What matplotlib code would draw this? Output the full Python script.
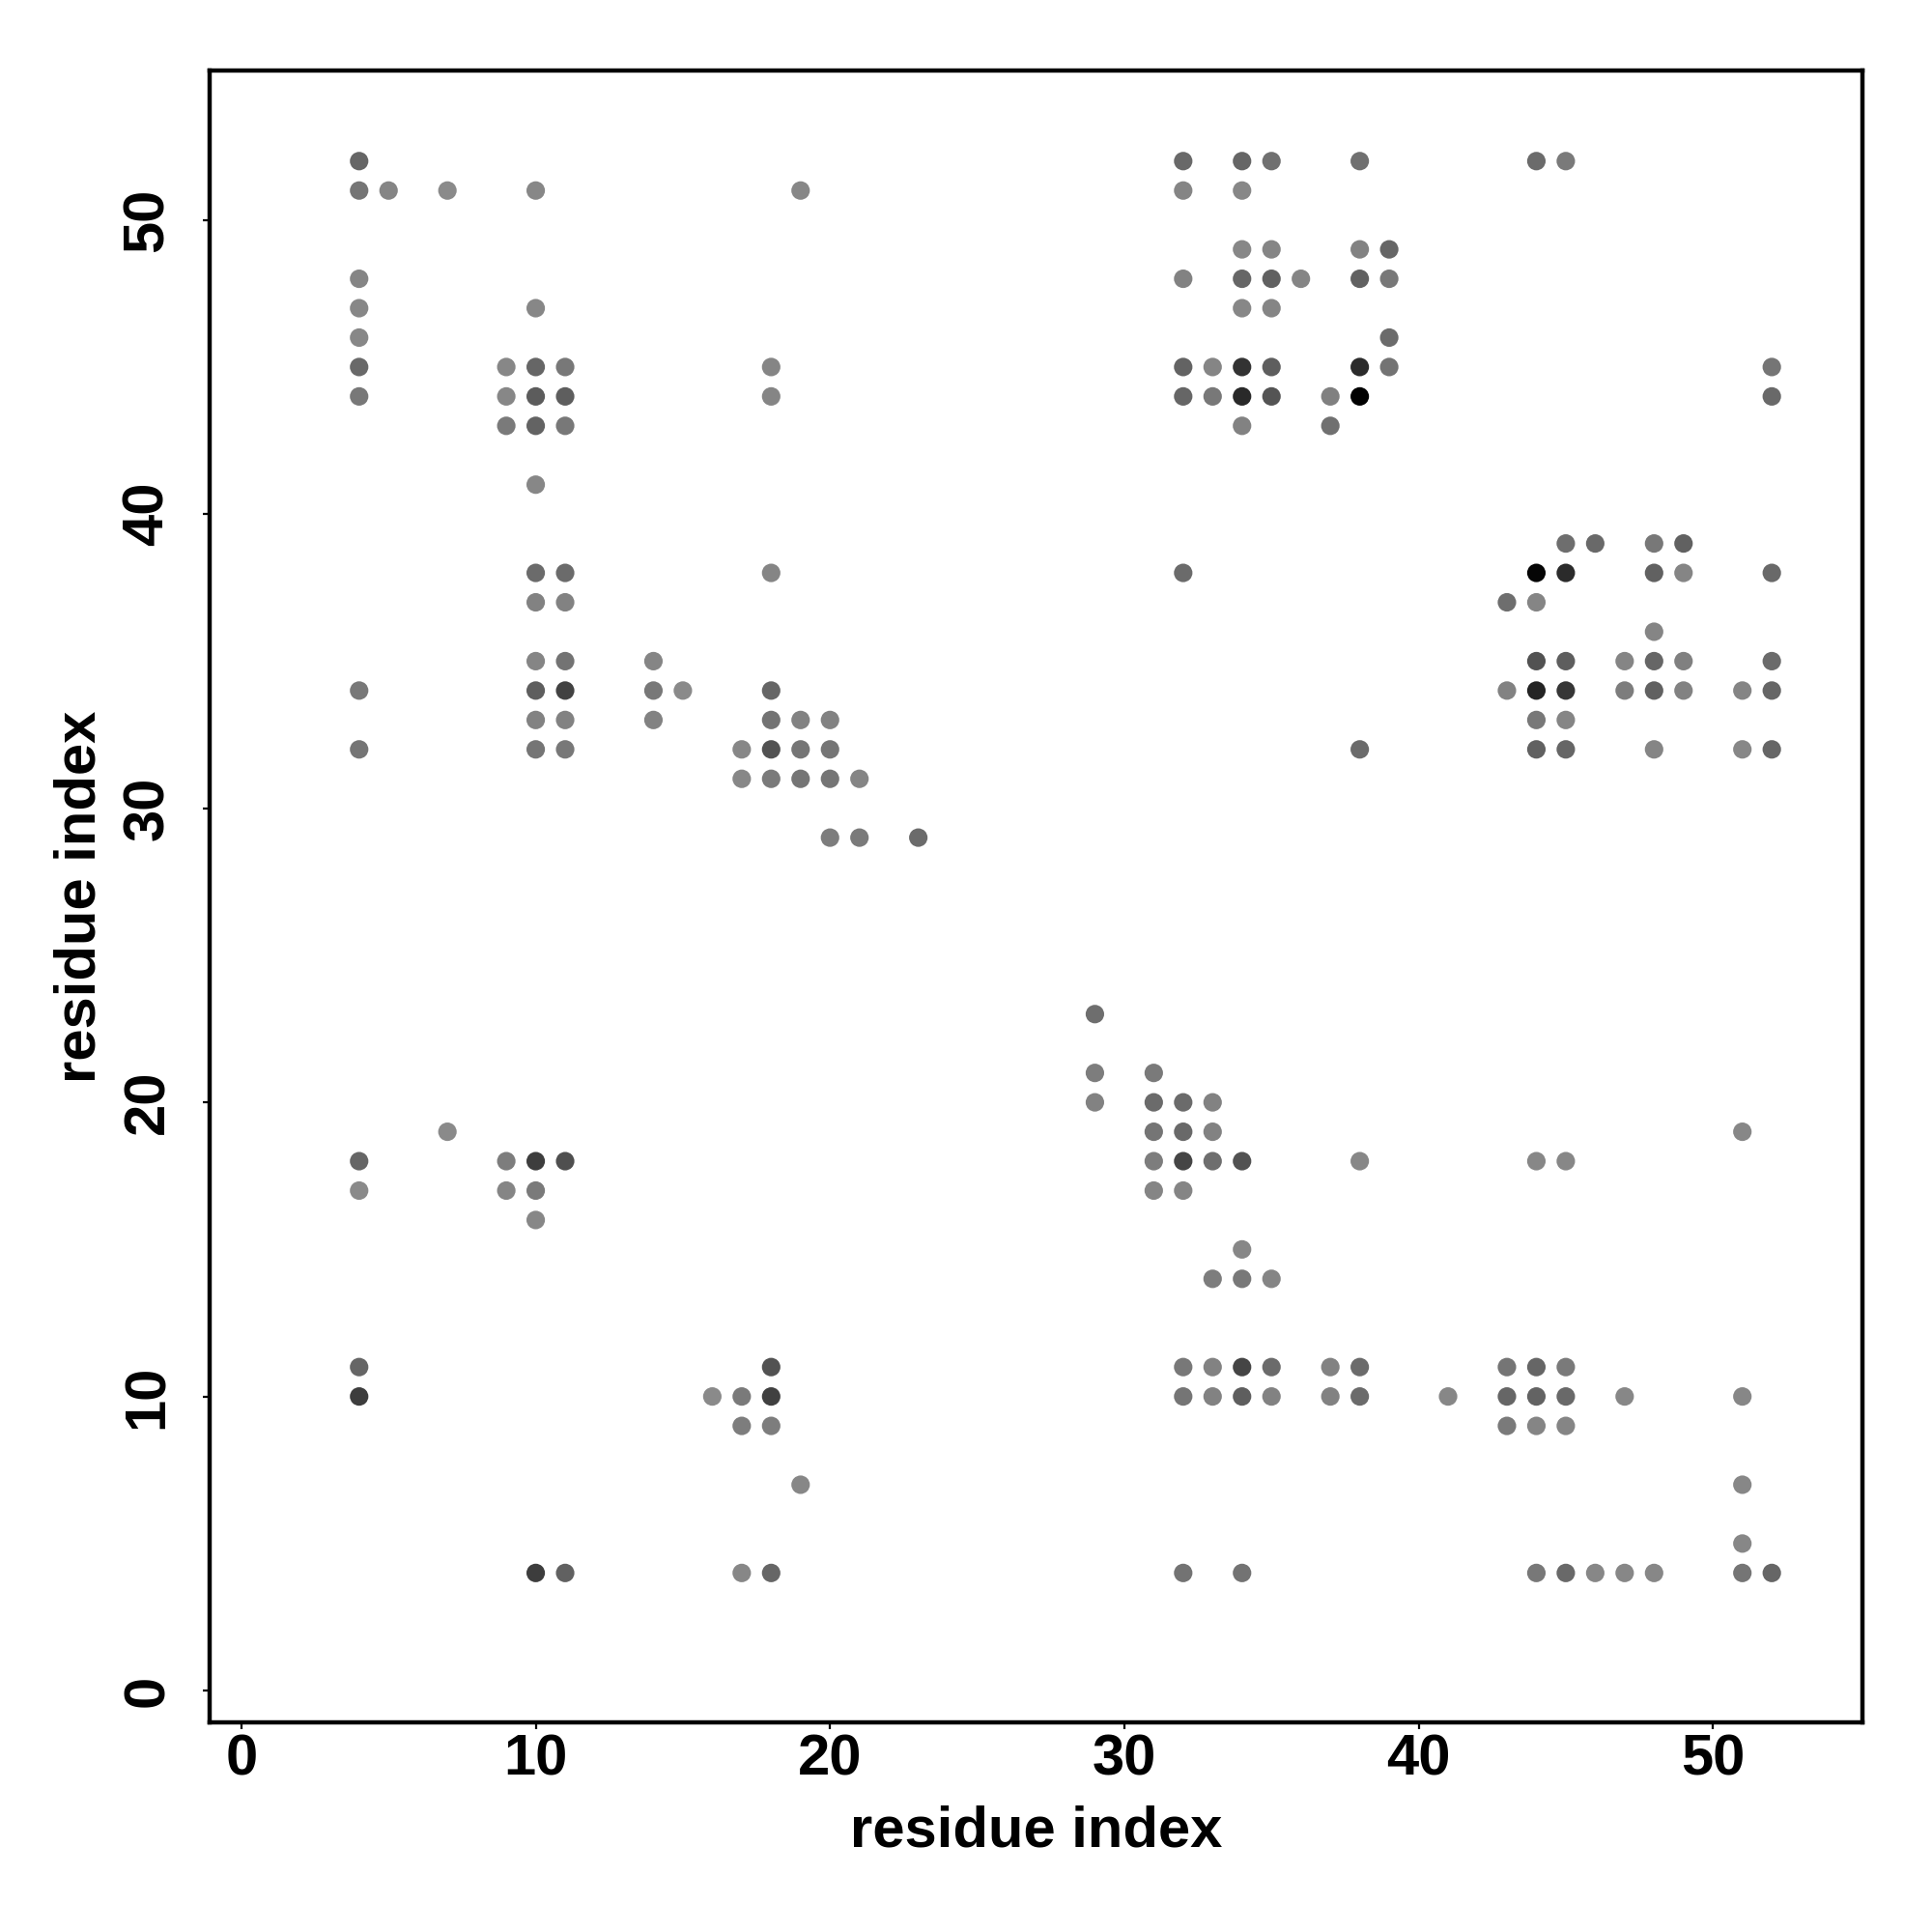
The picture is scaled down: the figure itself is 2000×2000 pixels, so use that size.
import matplotlib
matplotlib.use("Agg")
import matplotlib.pyplot as plt

# residue i (x), residue j (y), gray level of the dot (0 = black, 1 = white)
res_x = (
    [4]*13 + [5] + [7]*2 + [9]*5 + [10]*16 + [11]*11 + [14]*3 + [15] + [16] + [17]*5
    + [18]*11 + [19]*5 + [20]*4 + [21]*2 + [23] + [29]*3 + [31]*5 + [32]*13 + [33]*8
    + [34]*14 + [35]*9 + [36] + [37]*4 + [38]*9 + [39]*4 + [41] + [43]*5 + [44]*12
    + [45]*12 + [46]*2 + [47]*4 + [48]*7 + [49]*4 + [51]*7 + [52]*7
)
res_y = [
    52, 51, 48, 47, 46, 45, 44, 34, 32, 18, 17, 11, 10,          # 4
    51,                                                          # 5
    51, 19,                                                      # 7
    45, 44, 43, 18, 17,                                          # 9
    51, 47, 45, 44, 43, 41, 38, 37, 35, 34, 33, 32, 18, 17, 16, 4,  # 10
    45, 44, 43, 38, 37, 35, 34, 33, 32, 18, 4,                   # 11
    35, 34, 33,                                                  # 14
    34,                                                          # 15
    10,                                                          # 16
    32, 31, 10, 9, 4,                                            # 17
    45, 44, 38, 34, 33, 32, 31, 11, 10, 9, 4,                    # 18
    51, 33, 32, 31, 7,                                           # 19
    33, 32, 31, 29,                                              # 20
    31, 29,                                                      # 21
    29,                                                          # 23
    23, 21, 20,                                                  # 29
    21, 20, 19, 18, 17,                                          # 31
    52, 51, 48, 45, 44, 38, 20, 19, 18, 17, 11, 10, 4,           # 32
    45, 44, 20, 19, 18, 14, 11, 10,                              # 33
    52, 51, 49, 48, 47, 45, 44, 43, 18, 15, 14, 11, 10, 4,       # 34
    52, 49, 48, 47, 45, 44, 14, 11, 10,                          # 35
    48,                                                          # 36
    44, 43, 11, 10,                                              # 37
    52, 49, 48, 45, 44, 32, 18, 11, 10,                          # 38
    49, 48, 46, 45,                                              # 39
    10,                                                          # 41
    37, 34, 11, 10, 9,                                           # 43
    52, 38, 37, 35, 34, 33, 32, 18, 11, 10, 9, 4,                # 44
    52, 39, 38, 35, 34, 33, 32, 18, 11, 10, 9, 4,                # 45
    39, 4,                                                       # 46
    35, 34, 10, 4,                                               # 47
    39, 38, 36, 35, 34, 32, 4,                                   # 48
    39, 38, 35, 34,                                              # 49
    34, 32, 19, 10, 7, 5, 4,                                     # 51
    45, 44, 38, 35, 34, 32, 4,                                   # 52
]
gray_level = [
    0.40, 0.46, 0.52, 0.53, 0.53, 0.41, 0.47, 0.47, 0.46, 0.40, 0.54, 0.40, 0.24,
    0.52,
    0.54, 0.54,
    0.53, 0.53, 0.48, 0.49, 0.52,
    0.53, 0.53, 0.40, 0.36, 0.39, 0.53, 0.42, 0.51, 0.52, 0.37, 0.51, 0.46, 0.24, 0.48, 0.53, 0.24,
    0.47, 0.37, 0.47, 0.42, 0.51, 0.45, 0.26, 0.51, 0.47, 0.31, 0.38,
    0.52, 0.47, 0.51,
    0.54,
    0.54,
    0.53, 0.53, 0.48, 0.49, 0.53,
    0.52, 0.52, 0.52, 0.40, 0.45, 0.32, 0.48, 0.32, 0.25, 0.49, 0.40,
    0.53, 0.51, 0.46, 0.46, 0.53,
    0.51, 0.46, 0.46, 0.49,
    0.52, 0.48,
    0.42,
    0.43, 0.49, 0.51,
    0.48, 0.42, 0.46, 0.49, 0.52,
    0.41, 0.52, 0.51, 0.39, 0.40, 0.42, 0.42, 0.41, 0.27, 0.52, 0.47, 0.46, 0.45,
    0.52, 0.47, 0.51, 0.51, 0.43, 0.49, 0.51, 0.51,
    0.40, 0.53, 0.53, 0.40, 0.53, 0.20, 0.16, 0.51, 0.32, 0.53, 0.47, 0.27, 0.37, 0.45,
    0.44, 0.52, 0.38, 0.52, 0.37, 0.33, 0.52, 0.42, 0.51,
    0.52,
    0.50, 0.44, 0.51, 0.51,
    0.44, 0.51, 0.38, 0.17, 0.00, 0.42, 0.53, 0.42, 0.42,
    0.40, 0.47, 0.42, 0.45,
    0.53,
    0.43, 0.51, 0.46, 0.40, 0.48,
    0.42, 0.02, 0.52, 0.32, 0.14, 0.47, 0.38, 0.53, 0.40, 0.39, 0.52, 0.47,
    0.48, 0.43, 0.17, 0.37, 0.21, 0.52, 0.40, 0.53, 0.48, 0.41, 0.52, 0.41,
    0.41, 0.53,
    0.52, 0.49, 0.53, 0.53,
    0.47, 0.38, 0.52, 0.40, 0.38, 0.52, 0.53,
    0.38, 0.52, 0.50, 0.51,
    0.52, 0.53, 0.53, 0.53, 0.53, 0.53, 0.46,
    0.46, 0.41, 0.41, 0.42, 0.40, 0.40, 0.40,
]

tick_values = [0, 10, 20, 30, 40, 50]
axis_label = "residue index"

plt.rcParams['font.family'] = ['Liberation Sans', 'DejaVu Sans']
plt.rcParams['font.weight'] = 'bold'

fig = plt.figure(figsize=(20, 20), dpi=100)
ax = fig.add_axes([0.1085, 0.1085, 0.8555, 0.855])

colors = [(g, g, g) for g in gray_level]
ax.scatter(res_x, res_y, s=190, c=colors, edgecolors='none', zorder=3)

ax.set_xlim(-1.08, 55.08)
ax.set_ylim(-1.08, 55.08)
ax.set_xticks(tick_values)
ax.set_yticks(tick_values)
ax.set_xticklabels([str(t) for t in tick_values], fontsize=43, fontweight='bold')
ax.set_yticklabels([str(t) for t in tick_values], fontsize=43, fontweight='bold',
                   rotation=90, va='center')
ax.tick_params(axis='both', direction='out', length=5, width=1.6)
ax.tick_params(axis='x', pad=3)
ax.tick_params(axis='y', pad=21)

for sp in ax.spines.values():
    sp.set_linewidth(3.2)

ax.set_xlabel(axis_label, fontsize=43, fontweight='bold', labelpad=14)
ax.set_ylabel(axis_label, fontsize=43, fontweight='bold', labelpad=11)

fig.savefig("out.png", dpi=100, facecolor='white')
